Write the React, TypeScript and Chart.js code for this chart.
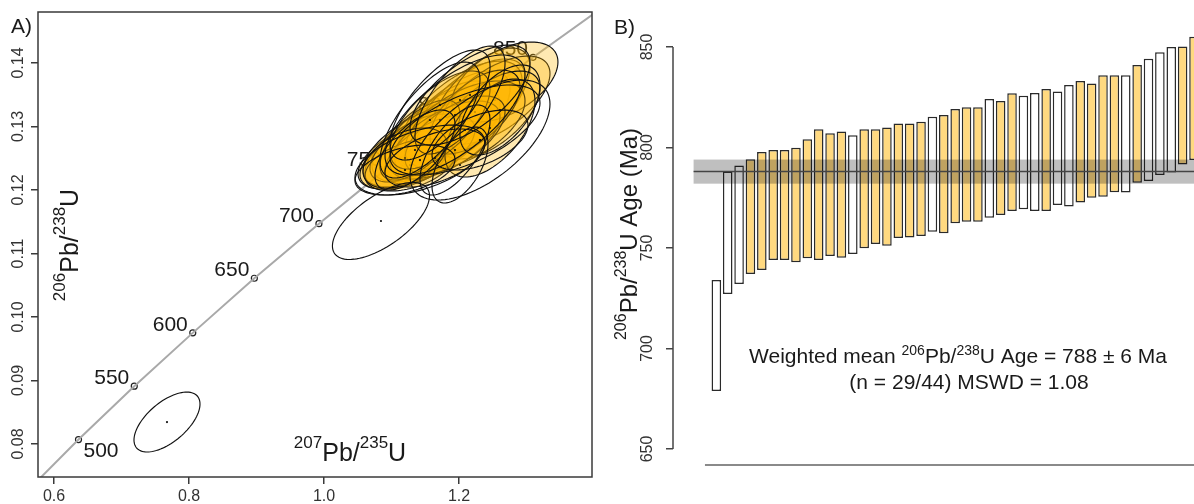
import React, { useEffect, useRef } from "react";
import { Chart, registerables } from "chart.js";

Chart.register(...registerables);

const FONT = '"Liberation Sans", Arial, Helvetica, sans-serif';

// ---------------- Panel A: concordia diagram ----------------
const concordiaAges = [450, 500, 550, 600, 650, 700, 750, 800, 850, 900];
const concordiaX = [0.5577, 0.6363, 0.7189, 0.8056, 0.8968, 0.9925, 1.0931, 1.1987, 1.3097, 1.4263];
const concordiaY = [0.0723, 0.0807, 0.0891, 0.0975, 0.1061, 0.1147, 0.1234, 0.1321, 0.1409, 0.1498];

const markerAges = [500, 550, 600, 650, 700, 750, 800, 850];
const markerX = [0.6363, 0.7189, 0.8056, 0.8968, 0.9925, 1.0931, 1.1987, 1.3097];
const markerY = [0.0807, 0.0891, 0.0975, 0.1061, 0.1147, 0.1234, 0.1321, 0.1409];

const aXTicks = [0.6, 0.8, 1.0, 1.2];
const aXTickLabels = ["0.6", "0.8", "1.0", "1.2"];
const aYTicks = [0.08, 0.09, 0.1, 0.11, 0.12, 0.13, 0.14];
const aYTickLabels = ["0.08", "0.09", "0.10", "0.11", "0.12", "0.13", "0.14"];

// error ellipses: centre, half-extent in x / y, error correlation, concordant (filled)
const ellX = [
  1.1941, 1.1719, 1.157, 1.1422, 1.1274, 1.1793, 1.2163, 1.2015, 1.1496, 1.12,
  1.1644, 1.1867, 1.2311, 1.2533, 1.2681, 1.2459, 1.1348, 1.2089, 1.157, 1.1793,
  1.1274, 1.2237, 1.1941, 1.1422, 1.1719, 1.12, 1.2459, 1.2015, 1.1644,
  1.2311, 1.1941, 1.2163, 1.1422, 1.12, 1.157, 1.2607, 1.1941, 1.2089, 1.1348, 1.1719, 1.2311, 1.2015,
  1.0844, 0.7674,
];
const ellY = [
  0.13102, 0.12913, 0.12787, 0.1263, 0.12551, 0.13024, 0.13291, 0.13181, 0.12709, 0.12472,
  0.12866, 0.12976, 0.13417, 0.13417, 0.13701, 0.13181, 0.12661, 0.13024, 0.1263, 0.12787,
  0.12394, 0.13228, 0.12866, 0.12787, 0.13102, 0.12504, 0.12976, 0.13417, 0.12504,
  0.12787, 0.13181, 0.13496, 0.12472, 0.12315, 0.13102, 0.1326, 0.1263, 0.12945, 0.1263, 0.13339, 0.12787, 0.12394,
  0.11512, 0.08346,
];
const ellHX = [
  0.0815, 0.0889, 0.0859, 0.0815, 0.077, 0.0711, 0.0815, 0.0919, 0.0919, 0.0667,
  0.0593, 0.0519, 0.0741, 0.0815, 0.0785, 0.0741, 0.0667, 0.0889, 0.0667, 0.0815,
  0.0667, 0.0667, 0.0741, 0.0593, 0.0741, 0.0622, 0.0667, 0.0667, 0.0741,
  0.1037, 0.1037, 0.0889, 0.0963, 0.0741, 0.0741, 0.0593, 0.0519, 0.1111, 0.0593, 0.0741, 0.0711, 0.0415,
  0.0719, 0.0489,
];
const ellHY = [
  0.00772, 0.00724, 0.00661, 0.00614, 0.00535, 0.00693, 0.00772, 0.00850, 0.00661, 0.00457,
  0.00614, 0.00504, 0.00819, 0.00693, 0.00630, 0.00693, 0.00535, 0.00693, 0.00535, 0.00614,
  0.00409, 0.00661, 0.00614, 0.00630, 0.00772, 0.00472, 0.00772, 0.00850, 0.00457,
  0.00945, 0.00945, 0.00787, 0.00551, 0.00394, 0.00913, 0.00709, 0.00709, 0.00709, 0.0063, 0.00866, 0.00472, 0.00598,
  0.00606, 0.00472,
];
const ellRho = [
  0.64, 0.6, 0.6, 0.58, 0.55, 0.64, 0.64, 0.64, 0.6, 0.5,
  0.64, 0.6, 0.64, 0.6, 0.5, 0.6, 0.6, 0.55, 0.6, 0.6,
  0.42, 0.6, 0.6, 0.64, 0.64, 0.45, 0.55, 0.68, 0.5,
  0.6, 0.68, 0.65, 0.5, 0.42, 0.7, 0.55, 0.65, 0.6, 0.65, 0.7, 0.5, 0.55,
  0.65, 0.6,
];
const ellConcordant = [
  1, 1, 1, 1, 1, 1, 1, 1, 1, 1,
  1, 1, 1, 1, 1, 1, 1, 1, 1, 1,
  1, 1, 1, 1, 1, 1, 1, 1, 1,
  0, 0, 0, 0, 0, 0, 0, 0, 0, 0, 0, 0, 0,
  0, 0,
];

// ---------------- Panel B: weighted mean ----------------
const barLow = [
  678.9, 727.1, 732.1, 737.1, 739.1, 744.0, 744.0, 742.9, 744.9, 744.0,
  746.0, 745.2, 747.0, 749.9, 752.0, 751.1, 755.0, 755.2, 756.0, 758.1,
  757.3, 762.3, 763.1, 763.1, 765.1, 766.4, 768.4, 769.3, 768.4, 768.4,
  771.4, 770.6, 772.6, 775.0, 775.5, 777.7, 777.6, 782.5, 783.3, 786.3,
  787.5, 791.6, 793.8, 795.0,
];
const barHigh = [
  734.1, 788.1, 791.1, 794.1, 797.8, 798.8, 798.8, 799.9, 804.1, 809.1,
  807.1, 807.9, 806.1, 809.1, 809.1, 810.0, 812.0, 812.0, 812.8, 815.3,
  816.2, 819.2, 820.0, 820.0, 824.1, 823.1, 827.0, 825.8, 827.1, 829.1,
  827.8, 831.1, 833.1, 831.9, 835.9, 835.9, 835.9, 841.0, 844.2, 847.4,
  850.0, 850.2, 855.1, 862.0,
];
const barConcordant = [
  0, 0, 0, 1, 1, 1, 1, 1, 1, 1,
  1, 1, 0, 1, 1, 1, 1, 1, 1, 0,
  1, 1, 1, 1, 0, 1, 1, 0, 0, 1,
  0, 0, 1, 1, 1, 1, 0, 1, 0, 0,
  0, 1, 1, 0,
];
const bYTicks = [650, 700, 750, 800, 850];
const meanAge = 788;
const meanErr = 6;
const mswd = "1.08";
const baseLineAge = 642;

type Seg = { t: string; sup?: boolean };

function drawRich(
  ctx: CanvasRenderingContext2D,
  segs: Seg[],
  x: number,
  y: number,
  main: number,
  sup: number,
  raise: number,
  align: "left" | "center" | "right"
) {
  ctx.save();
  ctx.textAlign = "left";
  ctx.textBaseline = "alphabetic";
  let w = 0;
  for (const s of segs) {
    ctx.font = `${s.sup ? sup : main}px ${FONT}`;
    w += ctx.measureText(s.t).width;
  }
  let cx = align === "center" ? x - w / 2 : align === "right" ? x - w : x;
  for (const s of segs) {
    ctx.font = `${s.sup ? sup : main}px ${FONT}`;
    ctx.fillText(s.t, cx, s.sup ? y - raise : y);
    cx += ctx.measureText(s.t).width;
  }
  ctx.restore();
}

const panelAPlugin = {
  id: "panelA",
  afterDatasetsDraw(chart: any) {
    const { ctx, chartArea: ca } = chart;
    const xs = chart.scales.x;
    const ys = chart.scales.y;
    // age labels on concordia
    ctx.save();
    ctx.font = `21px ${FONT}`;
    ctx.fillStyle = "#1a1a1a";
    ctx.textBaseline = "alphabetic";
    markerAges.forEach((age, i) => {
      const px = xs.getPixelForValue(markerX[i]);
      const py = ys.getPixelForValue(markerY[i]);
      if (i === 0) {
        ctx.textAlign = "left";
        ctx.fillText(String(age), px + 5, py + 17);
      } else {
        ctx.textAlign = "right";
        ctx.fillText(String(age), px - 5, py - 2);
      }
    });
    ctx.restore();

    // error ellipses
    ctx.save();
    ctx.beginPath();
    ctx.rect(ca.left, ca.top, ca.right - ca.left, ca.bottom - ca.top);
    ctx.clip();
    const N = 96;
    for (let i = 0; i < ellX.length; i++) {
      const r = ellRho[i];
      const s = Math.sqrt(1 - r * r);
      ctx.beginPath();
      for (let k = 0; k <= N; k++) {
        const t = (k / N) * Math.PI * 2;
        const vx = ellX[i] + ellHX[i] * Math.cos(t);
        const vy = ellY[i] + ellHY[i] * (r * Math.cos(t) + s * Math.sin(t));
        const px = xs.getPixelForValue(vx);
        const py = ys.getPixelForValue(vy);
        if (k === 0) ctx.moveTo(px, py);
        else ctx.lineTo(px, py);
      }
      ctx.closePath();
      if (ellConcordant[i]) {
        ctx.fillStyle = "rgba(255,182,0,0.3)";
        ctx.fill();
      }
      ctx.strokeStyle = "#111";
      ctx.lineWidth = 1.15;
      ctx.stroke();
      ctx.beginPath();
      ctx.arc(xs.getPixelForValue(ellX[i]), ys.getPixelForValue(ellY[i]), 1.1, 0, Math.PI * 2);
      ctx.fillStyle = "#111";
      ctx.fill();
    }
    ctx.restore();

    // frame
    ctx.save();
    ctx.strokeStyle = "#3a3a3a";
    ctx.lineWidth = 1.5;
    ctx.strokeRect(ca.left, ca.top, ca.right - ca.left, ca.bottom - ca.top);
    ctx.restore();

    // axis titles inside plot
    ctx.save();
    ctx.fillStyle = "#1a1a1a";
    drawRich(
      ctx,
      [{ t: "207", sup: true }, { t: "Pb/" }, { t: "235", sup: true }, { t: "U" }],
      350,
      461,
      25,
      17,
      13,
      "center"
    );
    ctx.translate(78, 245);
    ctx.rotate(-Math.PI / 2);
    drawRich(
      ctx,
      [{ t: "206", sup: true }, { t: "Pb/" }, { t: "238", sup: true }, { t: "U" }],
      0,
      0,
      25,
      17,
      13,
      "center"
    );
    ctx.restore();

    ctx.save();
    ctx.fillStyle = "#1a1a1a";
    ctx.font = `21px ${FONT}`;
    ctx.textAlign = "left";
    ctx.textBaseline = "alphabetic";
    ctx.fillText("A)", 11, 33);
    ctx.restore();
  },
};

const panelBPlugin = {
  id: "panelB",
  afterDatasetsDraw(chart: any) {
    const { ctx, chartArea: ca } = chart;
    const xs = chart.scales.x;
    const ys = chart.scales.y;
    const x0 = xs.getPixelForValue(-1);
    // weighted mean band
    ctx.save();
    ctx.fillStyle = "rgba(0,0,0,0.25)";
    const yTop = ys.getPixelForValue(meanAge + meanErr);
    const yBot = ys.getPixelForValue(meanAge - meanErr);
    ctx.fillRect(x0, yTop, ca.right - x0, yBot - yTop);
    ctx.strokeStyle = "#444";
    ctx.lineWidth = 1.5;
    ctx.beginPath();
    const ym = ys.getPixelForValue(meanAge);
    ctx.moveTo(x0, ym);
    ctx.lineTo(ca.right, ym);
    ctx.stroke();
    ctx.restore();

    // partial y axis line
    ctx.save();
    ctx.strokeStyle = "#444";
    ctx.lineWidth = 1.5;
    ctx.beginPath();
    ctx.moveTo(ca.left, ys.getPixelForValue(bYTicks[0]));
    ctx.lineTo(ca.left, ys.getPixelForValue(bYTicks[bYTicks.length - 1]));
    ctx.stroke();
    ctx.restore();

    // y title
    ctx.save();
    ctx.fillStyle = "#1a1a1a";
    ctx.translate(37, 234);
    ctx.rotate(-Math.PI / 2);
    drawRich(
      ctx,
      [{ t: "206", sup: true }, { t: "Pb/" }, { t: "238", sup: true }, { t: "U Age (Ma)" }],
      0,
      0,
      24,
      16,
      11,
      "center"
    );
    ctx.restore();

    // weighted mean text
    const nConc = barConcordant.filter((v) => v).length;
    ctx.save();
    ctx.fillStyle = "#1a1a1a";
    drawRich(
      ctx,
      [
        { t: "Weighted mean " },
        { t: "206", sup: true },
        { t: "Pb/" },
        { t: "238", sup: true },
        { t: `U Age = ${meanAge} \u00b1 ${meanErr} Ma` },
      ],
      358,
      363,
      21,
      14,
      8,
      "center"
    );
    drawRich(ctx, [{ t: `(n = ${nConc}/${barLow.length}) MSWD = ${mswd}` }], 369, 389, 21, 14, 8, "center");
    ctx.font = `21px ${FONT}`;
    ctx.textAlign = "left";
    ctx.textBaseline = "alphabetic";
    ctx.fillText("B)", 14, 34);
    ctx.restore();
  },
};

function PanelA() {
  const ref = useRef<HTMLCanvasElement>(null);
  useEffect(() => {
    const chart = new Chart(ref.current as HTMLCanvasElement, {
      type: "scatter",
      data: {
        datasets: [
          {
            data: concordiaAges.map((a, i) => ({ x: concordiaX[i], y: concordiaY[i] })),
            showLine: true,
            borderColor: "#a9a9a9",
            borderWidth: 2,
            pointRadius: 0,
            fill: false,
          } as any,
          {
            data: markerAges.map((a, i) => ({ x: markerX[i], y: markerY[i] })),
            pointRadius: 3,
            pointBackgroundColor: "#ffffff",
            pointBorderColor: "#222",
            pointBorderWidth: 1.2,
          } as any,
        ],
      },
      options: {
        animation: false,
        responsive: false,
        events: [],
        layout: { padding: { left: 0, top: 12, right: 8, bottom: 0 } },
        plugins: { legend: { display: false }, tooltip: { enabled: false } },
        scales: {
          x: {
            type: "linear",
            min: 0.5763,
            max: 1.39704,
            afterBuildTicks: (s: any) => {
              s.ticks = aXTicks.map((v) => ({ value: v }));
            },
            afterFit: (s: any) => {
              s.height = 27;
              s.paddingLeft = 0;
              s.paddingRight = 0;
            },
            ticks: {
              callback: (_v: any, i: number) => aXTickLabels[i],
              font: { family: FONT, size: 16 },
              color: "#333",
              padding: 3,
              maxRotation: 0,
              minRotation: 0,
            },
            grid: { display: true, drawOnChartArea: false, drawTicks: true, tickLength: 7, color: "#3a3a3a", lineWidth: 1.5 },
            border: { display: false },
          },
          y: {
            type: "linear",
            min: 0.074803,
            max: 0.148031,
            afterBuildTicks: (s: any) => {
              s.ticks = aYTicks.map((v) => ({ value: v }));
            },
            afterFit: (s: any) => {
              s.width = 38;
              s.paddingTop = 0;
              s.paddingBottom = 0;
            },
            ticks: {
              callback: (_v: any, i: number) => aYTickLabels[i],
              font: { family: FONT, size: 16 },
              color: "#333",
              padding: -3.6,
              minRotation: 90,
              maxRotation: 90,
              crossAlign: "center",
            },
            grid: { display: true, drawOnChartArea: false, drawTicks: true, tickLength: 7, color: "#3a3a3a", lineWidth: 1.5 },
            border: { display: false },
          },
        },
      } as any,
      plugins: [panelAPlugin],
    });
    return () => chart.destroy();
  }, []);
  return (
    <canvas
      ref={ref}
      width={600}
      height={504}
      style={{ position: "absolute", left: 0, top: 0, width: 600, height: 504 }}
    />
  );
}

function PanelB() {
  const ref = useRef<HTMLCanvasElement>(null);
  useEffect(() => {
    const chart = new Chart(ref.current as HTMLCanvasElement, {
      type: "bar",
      data: {
        datasets: [
          {
            type: "bar",
            data: barLow.map((lo, i) => ({ x: i + 1, y: [lo, barHigh[i]] })),
            backgroundColor: barConcordant.map((c) => (c ? "rgb(255,217,128)" : "#ffffff")),
            borderColor: "#2a2a2a",
            borderWidth: 1.5,
            borderSkipped: false,
            barPercentage: 0.84,
            categoryPercentage: 1,
          } as any,
          {
            type: "line",
            data: [
              { x: 0, y: baseLineAge },
              { x: 46, y: baseLineAge },
            ],
            borderColor: "#8a8a8a",
            borderWidth: 2,
            pointRadius: 0,
            fill: false,
          } as any,
        ],
      },
      options: {
        animation: false,
        responsive: false,
        events: [],
        layout: { padding: 0 },
        plugins: { legend: { display: false }, tooltip: { enabled: false } },
        scales: {
          x: {
            type: "linear",
            min: -2.81,
            max: 43.0,
            offset: false,
            display: false,
          },
          y: {
            type: "linear",
            min: 622.64,
            max: 873.38,
            afterBuildTicks: (s: any) => {
              s.ticks = bYTicks.map((v) => ({ value: v }));
            },
            afterFit: (s: any) => {
              s.width = 73;
              s.paddingTop = 0;
              s.paddingBottom = 0;
            },
            ticks: {
              callback: (v: any) => String(v),
              font: { family: FONT, size: 16 },
              color: "#333",
              padding: 4.6,
              minRotation: 90,
              maxRotation: 90,
              crossAlign: "center",
            },
            grid: { display: true, drawOnChartArea: false, drawTicks: true, tickLength: 7, color: "#444", lineWidth: 1.5 },
            border: { display: false },
          },
        },
      } as any,
      plugins: [panelBPlugin],
    });
    return () => chart.destroy();
  }, []);
  return (
    <canvas
      ref={ref}
      width={594}
      height={504}
      style={{ position: "absolute", left: 600, top: 0, width: 594, height: 504 }}
    />
  );
}

export default function App() {
  return (
    <div style={{ position: "absolute", left: 0, top: 0, width: 1194, height: 504, background: "#ffffff", overflow: "hidden" }}>
      <PanelA />
      <PanelB />
    </div>
  );
}
